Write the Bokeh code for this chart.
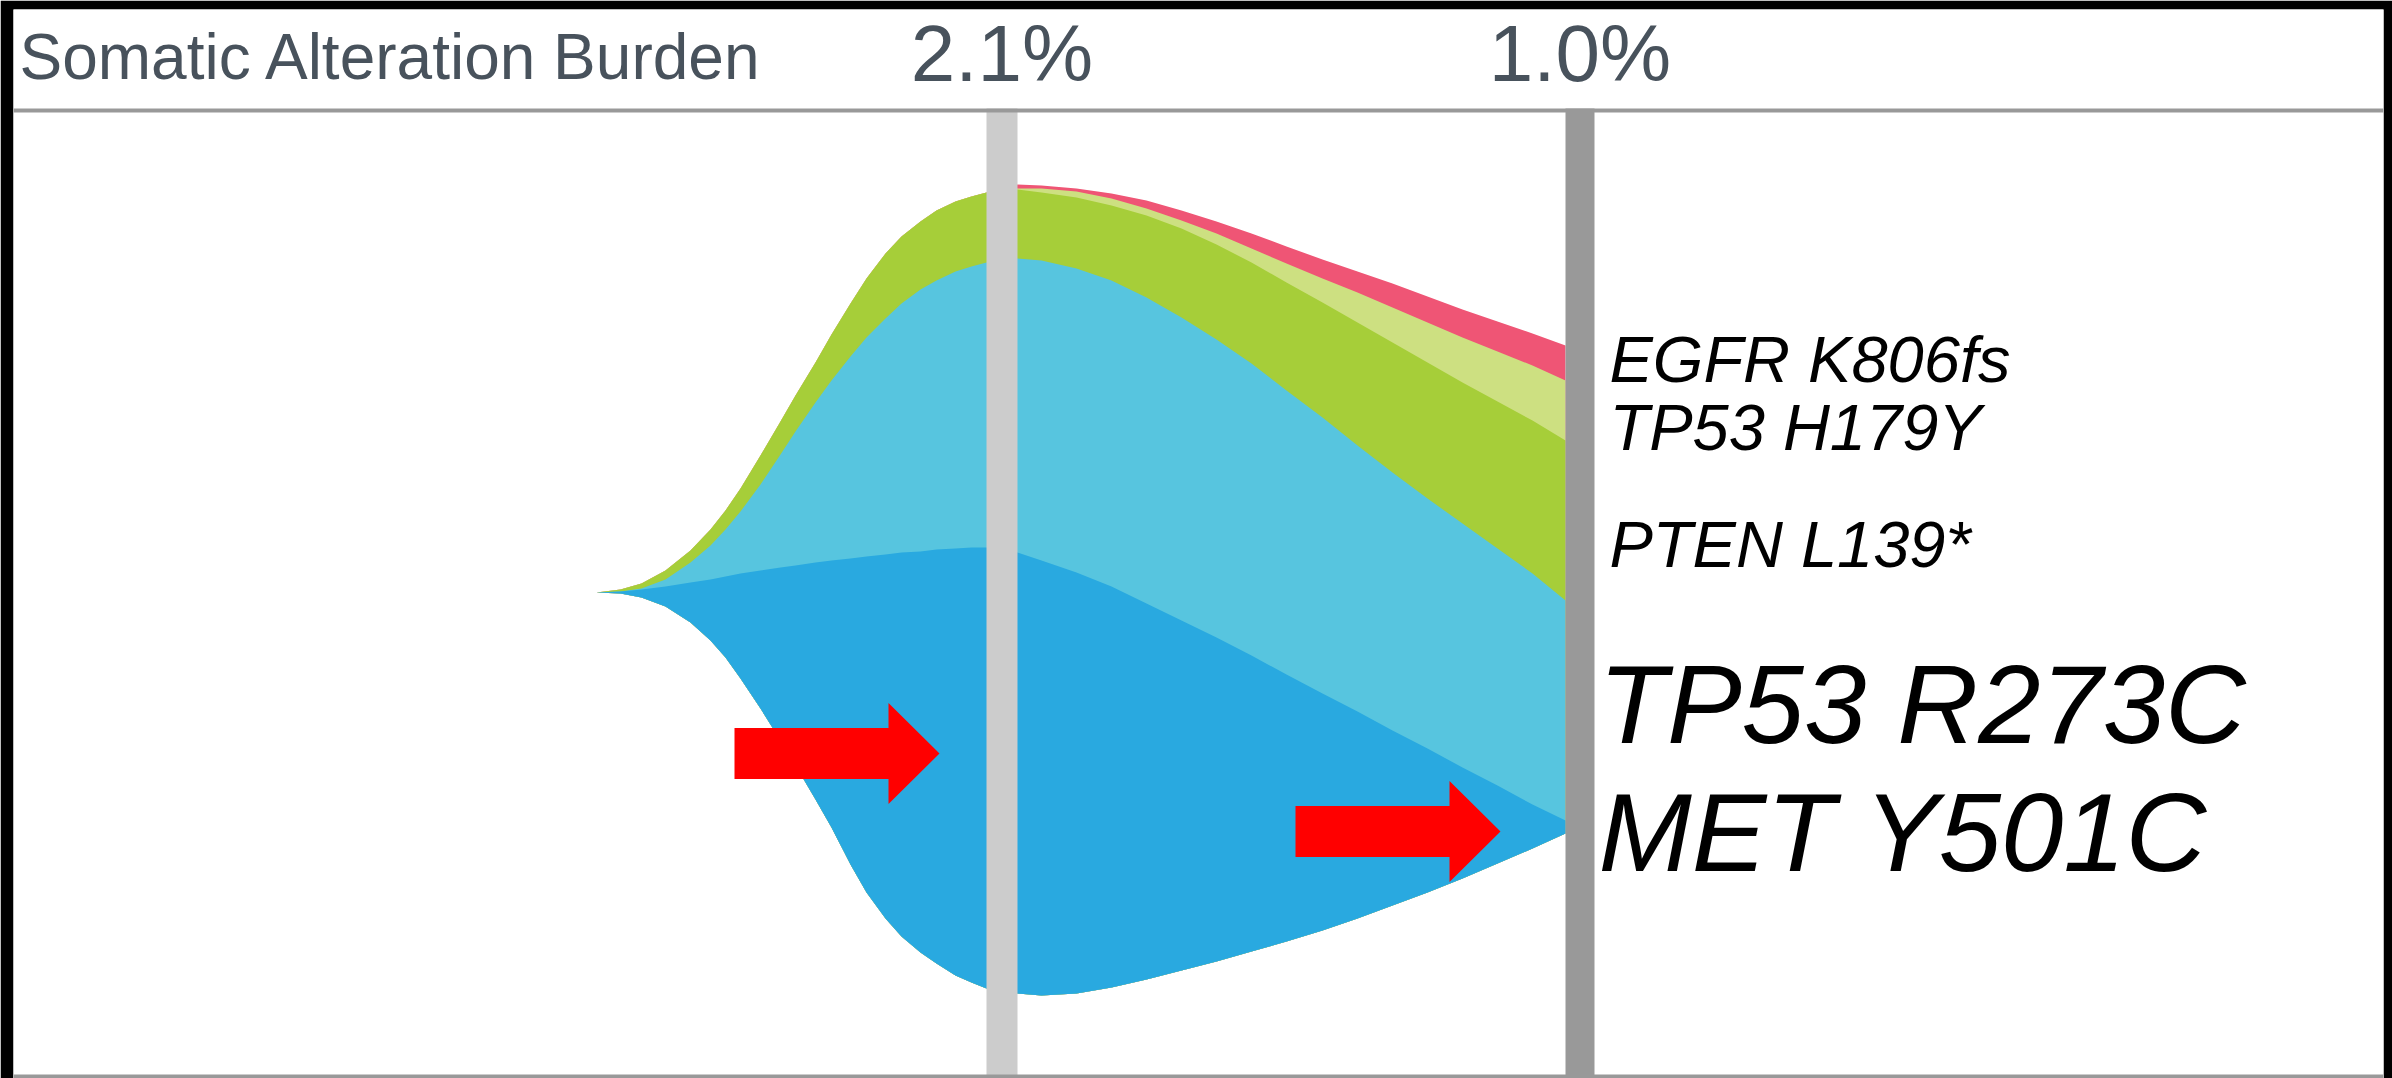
from bokeh.plotting import figure
from bokeh.models import Range1d, Span
from bokeh.embed import file_html
from bokeh.resources import INLINE
from bokeh.core.properties import value

# ---------------- data ----------------
header_title = "Somatic Alteration Burden"
timepoint_labels = ["2.1%", "1.0%"]
timepoint_x = [1001.5, 1579.5]

clone_names = ["MET Y501C", "TP53 R273C", "PTEN L139*", "TP53 H179Y", "EGFR K806fs"]
clone_colors = ["#29a9e0", "#57c5df", "#a6ce39", "#cde081", "#ef5575"]

# horizontal sample positions of the fish-plot
pos_x = [596, 620, 641, 665, 690, 710, 725, 740, 760, 780, 795, 815, 831, 850, 866,
         885, 901, 920, 936, 955, 971, 986, 1001, 1017, 1041, 1076, 1111, 1146, 1181,
         1216, 1251, 1286, 1322, 1357, 1392, 1427, 1462, 1497, 1532, 1565]

# band edges (vertical position, from top)
edge_blue_bottom = [592, 593, 597, 606, 622, 640, 657, 678, 708, 740, 765, 799, 827, 864, 892,
                    918, 936, 952, 963, 975, 982, 988, 991, 993, 995, 993, 987, 979, 970,
                    961, 951, 941, 930, 918, 905, 892, 878, 863, 848, 833]
edge_blue_top = [592, 591, 589, 586, 582, 579, 576, 573, 570, 567, 565, 562, 560, 558, 556,
                 554, 552, 551, 549, 548, 547, 547, 549, 552, 560, 572, 586, 603, 620,
                 637, 655, 674, 693, 711, 730, 748, 767, 785, 804, 820]
edge_cyan_top = [592, 591, 588, 579, 562, 545, 529, 511, 484, 454, 431, 402, 380, 356, 337,
                 318, 303, 289, 280, 271, 266, 262, 260, 258, 260, 268, 280, 297, 317,
                 339, 363, 390, 417, 445, 472, 498, 523, 548, 573, 600]
edge_green_top = [592, 589, 583, 570, 550, 529, 510, 488, 455, 421, 395, 362, 334, 303, 278,
                  253, 236, 221, 210, 201, 196, 192, 190, 189, 192, 197, 205, 215, 228,
                  244, 262, 282, 302, 322, 342, 362, 382, 401, 420, 440]
edge_lightgreen_top = [592, 589, 583, 570, 550, 529, 510, 488, 455, 421, 395, 362, 334, 303, 278,
                       253, 236, 221, 210, 201, 196, 192, 190, 188, 188, 191, 198, 208, 220,
                       233, 248, 263, 278, 292, 307, 322, 337, 351, 365, 380]
edge_pink_top = [592, 589, 583, 570, 550, 529, 510, 488, 455, 421, 395, 362, 334, 303, 278,
                 253, 236, 221, 210, 201, 196, 192, 190, 184, 185, 188, 193, 200, 210,
                 221, 233, 246, 259, 271, 283, 296, 309, 321, 333, 345]

label_small = ["EGFR K806fs", "TP53 H179Y", "PTEN L139*"]
label_small_y = [382, 450, 567]
label_big = ["TP53 R273C", "MET Y501C"]
label_big_y = [743, 871]

arrow_tip_x = [939, 1500]
arrow_tip_y = [753, 831]

# ---------------- figure ----------------
W, H = 2392, 1078
p = figure(width=W, height=H, x_range=Range1d(13, 2383), y_range=Range1d(1078, 9),
           min_border_left=13, min_border_right=9, min_border_top=9, min_border_bottom=0,
           border_fill_color="black", background_fill_color="white",
           outline_line_color=None, toolbar_location=None, output_backend="svg",
           x_axis_location=None, y_axis_location=None)
p.xgrid.visible = False
p.ygrid.visible = False

# stacked bands: draw each from the common bottom edge to its own top edge
tops = [edge_pink_top, edge_lightgreen_top, edge_green_top, edge_cyan_top, edge_blue_top]
cols = [clone_colors[4], clone_colors[3], clone_colors[2], clone_colors[1], clone_colors[0]]
for top, col in zip(tops, cols):
    p.varea(x=pos_x, y1=edge_blue_bottom, y2=top, fill_color=col, fill_alpha=1.0)

# header rules
p.add_layout(Span(location=110, dimension="width", line_color="#999999", line_width=4))
p.add_layout(Span(location=1076, dimension="width", line_color="#999999", line_width=4))

# timepoint bars
bar_colors = ["#cccccc", "#999999"]
bar_half = [15.5, 14.5]
p.quad(left=[x - h for x, h in zip(timepoint_x, bar_half)],
       right=[x + h for x, h in zip(timepoint_x, bar_half)],
       top=[108, 108], bottom=[1078, 1078], fill_color=bar_colors, line_color=None)

# arrows
shaft_len, head_len, shaft_half, head_half = 205, 51, 25.5, 50.5
axs, ays = [], []
for tx, ty in zip(arrow_tip_x, arrow_tip_y):
    b = tx - head_len
    s = tx - shaft_len
    axs.append([s, b, b, tx, b, b, s])
    ays.append([ty - shaft_half, ty - shaft_half, ty - head_half, ty,
                ty + head_half, ty + shaft_half, ty + shaft_half])
p.patches(xs=axs, ys=ays, fill_color="#ff0000", line_color=None)

# baseline correction for the svg text placement (fraction of font size)
BASE_K = 0.347


def text_at(xs, ys, texts, size, **kw):
    p.text(x=xs, y=[y - BASE_K * size for y in ys], text=texts,
           text_font=value("Liberation Sans"), text_font_size=f"{size}px",
           text_baseline="alphabetic", **kw)


hdr_color = "#48525c"
text_at([19], [79], [header_title], 64, text_color=hdr_color, text_align="left")
text_at(timepoint_x, [81, 81], timepoint_labels, 80, text_color=hdr_color,
        text_align="center")

text_at([1609] * len(label_small), label_small_y, label_small, 65,
        text_color="black", text_font_style="italic", text_align="left")
text_at([1598] * len(label_big), label_big_y, label_big, 112,
        text_color="black", text_font_style="italic", text_align="left")

open("out.html", "w").write(file_html(p, INLINE))
